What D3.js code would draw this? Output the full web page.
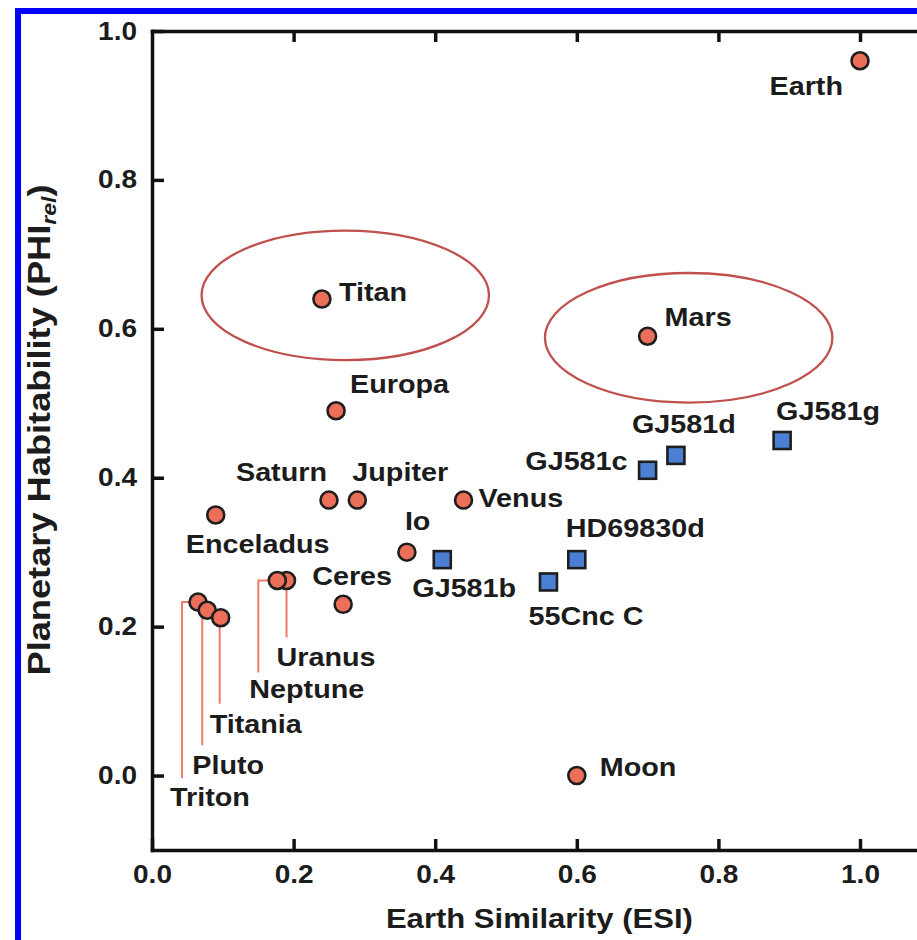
<!DOCTYPE html>
<html><head><meta charset="utf-8">
<script src="https://cdn.jsdelivr.net/npm/d3@7"></script>
<style>
body{margin:0;background:#fff}
svg{display:block}
text{font-family:"Liberation Sans",Arial,Helvetica,sans-serif;font-weight:bold;fill:#1c1c1c}
</style>
</head><body>
<svg id="chart" width="917" height="940"></svg>
<script>
// ---- data ----
const solarNames = ["Earth","Titan","Mars","Europa","Saturn","Jupiter","Venus","Enceladus","Io","Uranus","Neptune","Ceres","Triton","Pluto","Titania","Moon"];
const solarESI   = [1.00, 0.24, 0.70, 0.26, 0.25, 0.29, 0.44, 0.09, 0.36, 0.19, 0.177, 0.27, 0.065, 0.078, 0.097, 0.60];
const solarPHI   = [0.96, 0.64, 0.59, 0.49, 0.37, 0.37, 0.37, 0.35, 0.30, 0.262, 0.262, 0.23, 0.233, 0.222, 0.212, 0.00];
const exoNames = ["GJ581b","55Cnc C","HD69830d","GJ581c","GJ581d","GJ581g"];
const exoESI   = [0.41, 0.56, 0.60, 0.70, 0.74, 0.89];
const exoPHI   = [0.29, 0.26, 0.29, 0.41, 0.43, 0.45];
const xTicks = [0.0, 0.2, 0.4, 0.6, 0.8, 1.0];
const yTicks = [0.0, 0.2, 0.4, 0.6, 0.8, 1.0];
// highlighted regions (data units)
const ringNames = ["Titan","Mars"];
const ringCX = [0.273, 0.758];
const ringCY = [0.645, 0.588];
const ringRX = [0.203, 0.203];
const ringRY = [0.087, 0.087];
const xTitle = "Earth Similarity (ESI)";
const yTitleMain = "Planetary Habitability (PHI";
const yTitleSub = "rel";

// ---- layout (pixels) ----
const labelLayout = {
  "Earth":{dx:-17,dy:34,a:"end"}, "Titan":{dx:17,dy:2,a:"start"}, "Mars":{dx:17,dy:-10,a:"start"},
  "Europa":{dx:14,dy:-18,a:"start"}, "Saturn":{dx:-2,dy:-19,a:"end"}, "Jupiter":{dx:-5,dy:-19,a:"start"},
  "Venus":{dx:15,dy:7,a:"start"}, "Enceladus":{dx:-30,dy:38,a:"start"}, "Io":{dx:-2,dy:-22,a:"start"},
  "Uranus":{dx:-10,dy:86,a:"start"}, "Neptune":{dx:-28,dy:118,a:"start"}, "Ceres":{dx:-31,dy:-19,a:"start"},
  "Triton":{dx:-28,dy:204,a:"start"}, "Pluto":{dx:-15,dy:164,a:"start"}, "Titania":{dx:-11,dy:115,a:"start"},
  "Moon":{dx:23,dy:0,a:"start"},
  "GJ581b":{dx:-30,dy:37,a:"start"}, "55Cnc C":{dx:-20,dy:43,a:"start"}, "HD69830d":{dx:-11,dy:-23,a:"start"},
  "GJ581c":{dx:-20,dy:0,a:"end"}, "GJ581d":{dx:-44,dy:-22,a:"start"}, "GJ581g":{dx:-6,dy:-21,a:"start"}
};
const leaderLayout = {
  "Triton":{x:-16,y0:0,y1:176,hook:true}, "Pluto":{x:-5,y0:8,y1:135}, "Titania":{x:-1,y0:8,y1:86},
  "Neptune":{x:-19,y0:0,y1:92,hook:true}, "Uranus":{x:0,y0:9,y1:57}
};
const W = 917, H = 940;
const LABEL_SIZE = 25, STRETCH = 1.15;

const svg = d3.select("#chart");
// blue frame
svg.append("rect").attr("x",15).attr("y",8).attr("width",6).attr("height",H).attr("fill","#0000ff");
svg.append("rect").attr("x",15).attr("y",8).attr("width",W).attr("height",6).attr("fill","#0000ff");

const x = d3.scaleLinear().domain([0,1.1]).range([152,152+708*1.1]);
const y = d3.scaleLinear().domain([-0.1,1.0]).range([850,31]);
const fmt = d3.format(".1f");

function styleAxis(g){
  g.attr("font-size",null).attr("font-family",null);
  g.select(".domain").attr("stroke","#111").attr("stroke-width",3.5).attr("stroke-linecap","square");
  g.selectAll(".tick line").attr("stroke","#111").attr("stroke-width",3.5);
  g.selectAll(".tick text").style("font-size","25px");
}
const gB = svg.append("g").attr("transform",`translate(0,${y(-0.1)})`)
  .call(d3.axisBottom(x).tickValues(xTicks).tickFormat(fmt).tickSizeInner(-11).tickSizeOuter(0).tickPadding(15));
styleAxis(gB);
gB.selectAll(".tick text").attr("transform",`scale(${1.12},1)`);
const gT = svg.append("g").attr("transform",`translate(0,${y(1.0)})`)
  .call(d3.axisTop(x).tickValues(xTicks.slice(1)).tickFormat("").tickSizeInner(-11).tickSizeOuter(0));
styleAxis(gT);
const gL = svg.append("g").attr("transform",`translate(${x(0)},0)`)
  .call(d3.axisLeft(y).tickValues(yTicks).tickFormat(fmt).tickSizeInner(-12).tickSizeOuter(0).tickPadding(15));
styleAxis(gL);
gL.selectAll(".tick text").attr("x",0).attr("transform",`translate(-15,0) scale(1.12,1)`);

// titles
svg.append("text").attr("transform",`translate(${(x(0)+x(1.1))/2 - 2},928) scale(1.15,1)`)
  .attr("text-anchor","middle").style("font-size","27px").text(xTitle);
const yt = svg.append("text").attr("transform",`translate(50,430) rotate(-90) scale(1.15,1)`)
  .attr("text-anchor","middle").style("font-size","31.5px");
yt.append("tspan").text(yTitleMain);
yt.append("tspan").attr("dy",6).style("font-size","20px").style("font-style","italic").text(yTitleSub);
yt.append("tspan").attr("dy",-6).text(")");

// highlight ellipses
svg.selectAll("ellipse.ring").data(ringNames).join("ellipse")
  .attr("cx",(d,i)=>x(ringCX[i])).attr("cy",(d,i)=>y(ringCY[i]))
  .attr("rx",(d,i)=>x(ringRX[i])-x(0)).attr("ry",(d,i)=>y(0)-y(ringRY[i]))
  .attr("fill","none").attr("stroke","#c0504d").attr("stroke-width",2.3);

const solar = solarNames.map((n,i)=>({name:n,px:x(solarESI[i]),py:y(solarPHI[i])}));
const exo = exoNames.map((n,i)=>({name:n,px:x(exoESI[i]),py:y(exoPHI[i])}));

// leader lines
const leadG = svg.append("g").attr("stroke","#f07a68").attr("stroke-width",2).attr("fill","none");
solar.filter(d=>leaderLayout[d.name]).forEach(d=>{
  const L = leaderLayout[d.name];
  let p = `M${d.px+L.x},${d.py+L.y1}V${d.py+L.y0}`;
  if(L.hook) p += `H${d.px-7}`;
  leadG.append("path").attr("d",p);
});

// markers
svg.append("g").selectAll("circle").data(solar).join("circle")
  .attr("cx",d=>d.px).attr("cy",d=>d.py).attr("r",8.5)
  .attr("fill","#ec6f5a").attr("stroke","#1e1e1e").attr("stroke-width",2.6);
svg.append("g").selectAll("rect").data(exo).join("rect")
  .attr("x",d=>d.px-8.5).attr("y",d=>d.py-8.5).attr("width",17).attr("height",17)
  .attr("fill","#4b7fd4").attr("stroke","#1e1e1e").attr("stroke-width",2.6);

// labels
svg.append("g").selectAll("text").data(solar.concat(exo)).join("text")
  .attr("transform",d=>{const L=labelLayout[d.name];return `translate(${d.px+L.dx},${d.py+L.dy}) scale(${STRETCH},1)`;})
  .attr("text-anchor",d=>labelLayout[d.name].a==="end"?"end":"start")
  .style("font-size",LABEL_SIZE+"px").text(d=>d.name);
</script>
</body></html>
